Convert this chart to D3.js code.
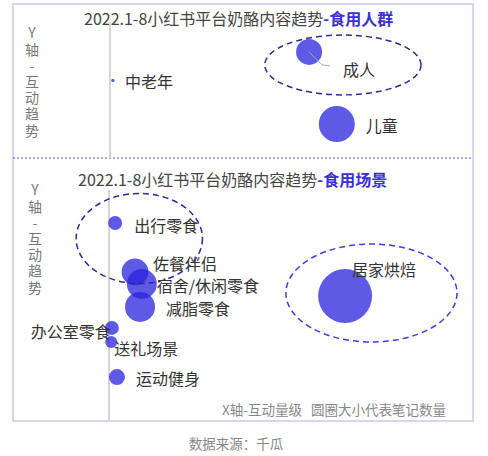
<!DOCTYPE html>
<html lang="zh">
<head>
  <meta charset="UTF-8">
  <title>小红书奶酪内容趋势</title>
  <style>
    body { margin: 0; background: #ffffff; }
    svg text { font-family: "Noto Sans CJK SC", "Noto Sans", sans-serif; }
    .ylab { writing-mode: vertical-rl; text-orientation: upright; }
  </style>
  <script src="https://d3js.org/d3.v7.min.js"></script>
</head>
<body>
<div id="chart"></div>
<script>
  // 食用人群: x = 互动量级, y = 互动趋势, notes = 笔记数量
  var crowdNames = ["中老年", "成人", "儿童"];
  var crowdX = [0.8, 55.3, 63];
  var crowdY = [57, 78, 25];
  var crowdNotes = [3, 188, 360];
  // highlighted group rings: [cx, cy, rx, ry] in data units
  var crowdRings = [[64.7, 68.4, 21.7, 22]];

  // 食用场景
  var sceneNames = ["出行零食", "佐餐伴侣", "宿舍/休闲零食", "减脂零食", "办公室零食", "送礼场景", "运动健身", "居家烘焙"];
  var sceneX = [1.7, 7.2, 9.1, 8.6, 0.8, 0.6, 2.2, 65.4];
  var sceneY = [85.7, 64.5, 59.3, 49.4, 40.3, 34.2, 19.0, 54.1];
  var sceneNotes = [54, 200, 250, 250, 54, 40, 71, 810];
  var sceneRings = [[8.4, 79, 17.5, 19.5], [72.7, 55.4, 23.7, 21.2]];

  var axisLabel = "Y轴-互动趋势";

  // label offsets (px) from each bubble centre
  var labelPos = {
    "中老年": [12, 1, "start"],
    "成人": [34, 17, "start"],
    "儿童": [29, 1, "start"],
    "出行零食": [19, 2, "start"],
    "佐餐伴侣": [18, -9, "start"],
    "宿舍/休闲零食": [15, 1, "start"],
    "减脂零食": [26, 1, "start"],
    "办公室零食": [-1, 3, "end"],
    "送礼场景": [3, 6, "start"],
    "运动健身": [19, 1, "start"],
    "居家烘焙": [7, -27, "start"]
  };

  var W = 488, H = 456;
  var svg = d3.select("#chart").append("svg")
          .attr("width", W)
          .attr("height", H);

  var rScale = d3.scaleSqrt().domain([0, 1000]).range([0, 30]);

  // outer frame
  svg.append("rect")
          .attr("x", 13).attr("y", 4)
          .attr("width", 460).attr("height", 417)
          .attr("fill", "none")
          .attr("stroke", "#c9c8f2")
          .attr("stroke-width", 1.5);

  // separator
  svg.append("line")
          .attr("x1", 13).attr("x2", 473)
          .attr("y1", 158).attr("y2", 158)
          .attr("stroke", "#4b4be0")
          .attr("stroke-width", 1)
          .attr("stroke-dasharray", "2,2");

  function panel(opt) {
    var x = d3.scaleLinear().domain([0, 100]).range(opt.xr);
    var y = d3.scaleLinear().domain([0, 100]).range(opt.yr);
    var g = svg.append("g");

    // title
    var t = g.append("text")
            .attr("x", opt.titleX)
            .attr("y", opt.titleY)
            .attr("font-size", 16)
            .attr("fill", "#444");
    t.append("tspan").text("2022.1-8小红书平台奶酪内容趋势");
    t.append("tspan").text("-" + opt.sub)
            .attr("fill", "#3a2fd6")
            .attr("font-weight", "bold");

    // vertical axis label
    g.append("text")
            .attr("class", "ylab")
            .attr("x", opt.labelX)
            .attr("y", opt.labelY)
            .attr("font-size", 14)
            .attr("letter-spacing", 2.2)
            .attr("fill", "#777")
            .text(axisLabel);

    // y axis line
    g.append("line")
            .attr("x1", x(0)).attr("x2", x(0))
            .attr("y1", y(100)).attr("y2", y(0))
            .attr("stroke", "#d6d6d6")
            .attr("stroke-width", 2);

    var pts = opt.names.map(function(n, i) {
      return { name: n, x: opt.xs[i], y: opt.ys[i], notes: opt.notes[i] };
    });

    g.append("g").selectAll("circle")
            .data(pts)
            .join("circle")
            .attr("cx", function(d) { return x(d.x); })
            .attr("cy", function(d) { return y(d.y); })
            .attr("r", function(d) { return rScale(d.notes); })
            .attr("fill", "#2823dc")
            .attr("fill-opacity", 0.75);

    // group rings
    g.append("g").selectAll("ellipse")
            .data(opt.rings)
            .join("ellipse")
            .attr("cx", function(d) { return x(d[0]); })
            .attr("cy", function(d) { return y(d[1]); })
            .attr("rx", function(d) { return x(d[2]) - x(0); })
            .attr("ry", function(d) { return y(0) - y(d[3]); })
            .attr("fill", "none")
            .attr("stroke", function(d, i) { return opt.ringColors[i]; })
            .attr("stroke-width", 1.5)
            .attr("stroke-dasharray", "6,4");

    // leader lines
    if (opt.leader) {
      pts.filter(function(d) { return d.name === opt.leader; }).forEach(function(d) {
        var cx = x(d.x), cy = y(d.y);
        g.append("polyline")
                .attr("points", [[cx, cy], [cx + 13, cy + 13], [cx + 21, cy + 14]].join(" "))
                .attr("fill", "none")
                .attr("stroke", "#aaa")
                .attr("stroke-width", 1);
      });
    }

    g.append("g").selectAll("text")
            .data(pts)
            .join("text")
            .attr("x", function(d) { return x(d.x) + labelPos[d.name][0]; })
            .attr("y", function(d) { return y(d.y) + labelPos[d.name][1]; })
            .attr("text-anchor", function(d) { return labelPos[d.name][2]; })
            .attr("dominant-baseline", "central")
            .attr("font-size", 16)
            .attr("fill", "#333")
            .text(function(d) { return d.name; });
  }

  panel({
    sub: "食用人群", titleX: 84, titleY: 25,
    xr: [110, 470], yr: [158, 22],
    labelX: 32, labelY: 26,
    names: crowdNames, xs: crowdX, ys: crowdY, notes: crowdNotes,
    rings: crowdRings, ringColors: ["#2a2a9a"],
    leader: "成人"
  });

  panel({
    sub: "食用场景", titleX: 78, titleY: 186,
    xr: [109, 470], yr: [421, 190],
    labelX: 35, labelY: 183,
    names: sceneNames, xs: sceneX, ys: sceneY, notes: sceneNotes,
    rings: sceneRings, ringColors: ["#2a2a9a", "#3d3de0"]
  });

  // footnotes
  svg.append("text")
          .attr("x", 446).attr("y", 409)
          .attr("text-anchor", "end")
          .attr("dominant-baseline", "central")
          .attr("font-size", 13.5)
          .attr("fill", "#888")
          .text("X轴-互动量级\u00a0\u00a0\u00a0圆圈大小代表笔记数量");

  svg.append("text")
          .attr("x", 236).attr("y", 443)
          .attr("text-anchor", "middle")
          .attr("dominant-baseline", "central")
          .attr("font-size", 13.5)
          .attr("fill", "#888")
          .text("数据来源：千瓜");
</script>
</body>
</html>
